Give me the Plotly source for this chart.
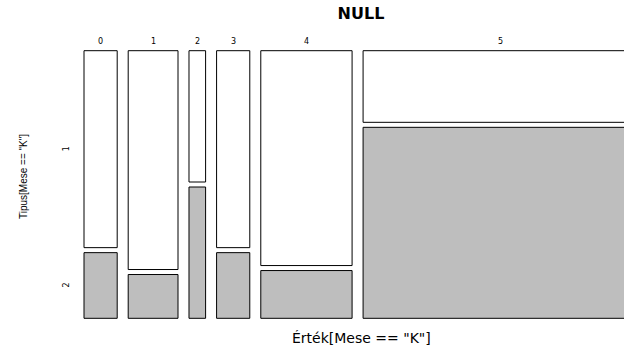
import plotly.graph_objects as go

# Contingency table: Érték[Mese == "K"] (columns) x Tipus[Mese == "K"] (rows)
values = ["0", "1", "2", "3", "4", "5"]
row_levels = ["1", "2"]
count_type1 = [3, 5, 1, 3, 9, 9]
count_type2 = [1, 1, 1, 1, 2, 24]

# Mosaic geometry (in count units horizontally, unit height vertically)
HGAP = 1.325
VGAP = 0.0187
FILL = {"1": "#ffffff", "2": "#bebebe"}

W, H = 624, 345
ML, MR, MT, MB = 82, 0, 48, 24
PX_PER_UNIT_X = 8.3
PX_PER_UNIT_Y = 267.6
x0_px, y0_px = 84, 318.3

fig = go.Figure()

x_left = 0.0
col_centers = []
row_label_y = None
for i, v in enumerate(values):
    n1, n2 = count_type1[i], count_type2[i]
    n = n1 + n2
    x_right = x_left + n
    frac2 = n2 / n
    y_split = frac2 * (1 - VGAP)
    cells = [
        ("2", 0.0, y_split),
        ("1", y_split + VGAP, 1.0),
    ]
    for lvl, yb, yt in cells:
        fig.add_trace(go.Scatter(
            x=[x_left, x_right, x_right, x_left, x_left],
            y=[yb, yb, yt, yt, yb],
            mode="lines",
            fill="toself",
            fillcolor=FILL[lvl],
            line=dict(color="#000000", width=1),
            hoverinfo="skip",
            showlegend=False,
        ))
    if i == 0:
        row_label_y = {"2": y_split / 2, "1": (y_split + VGAP + 1.0) / 2}
    col_centers.append((x_left + x_right) / 2)
    x_left = x_right + HGAP

plot_w = W - ML - MR
plot_h = H - MT - MB

x_range = [-(x0_px - ML) / PX_PER_UNIT_X, (W - MR - x0_px) / PX_PER_UNIT_X]
y_range = [-((H - MB) - y0_px) / PX_PER_UNIT_Y, 1 + ((y0_px - PX_PER_UNIT_Y) - MT) / PX_PER_UNIT_Y]


def paper_y(py):
    return ((H - MB) - py) / plot_h


def paper_x(px):
    return (px - ML) / plot_w


annotations = []
# column labels
for v, cx in zip(values, col_centers):
    annotations.append(dict(
        x=cx, xref="x", y=paper_y(41), yref="paper",
        text=v, showarrow=False, xanchor="center", yanchor="middle",
        font=dict(family="DejaVu Sans", size=8, color="#000000"),
    ))
# row labels
for lvl in row_levels:
    annotations.append(dict(
        x=paper_x(66), xref="paper", y=row_label_y[lvl], yref="y",
        text=lvl, showarrow=False, textangle=-90,
        xanchor="center", yanchor="middle",
        font=dict(family="DejaVu Sans", size=8, color="#000000"),
    ))
# axis titles
annotations.append(dict(
    x=paper_x(361), xref="paper", y=paper_y(337.5), yref="paper",
    text='Érték[Mese == "K"]', showarrow=False,
    xanchor="center", yanchor="middle",
    font=dict(family="DejaVu Sans", size=14, color="#000000"),
))
annotations.append(dict(
    x=paper_x(23), xref="paper", y=paper_y(177), yref="paper",
    text='Tipus[Mese == "K"]', showarrow=False, textangle=-90,
    xanchor="center", yanchor="middle",
    font=dict(family="Liberation Sans", size=10, color="#000000"),
))

fig.update_layout(
    width=W, height=H,
    margin=dict(l=ML, r=MR, t=MT, b=MB),
    paper_bgcolor="#ffffff", plot_bgcolor="#ffffff",
    title=dict(
        text="<b>NULL</b>", x=361 / W, xref="container", xanchor="center",
        y=1 - 13 / H, yref="container", yanchor="middle",
        font=dict(family="DejaVu Sans", size=16, color="#000000"),
    ),
    xaxis=dict(range=x_range, visible=False, fixedrange=True),
    yaxis=dict(range=y_range, visible=False, fixedrange=True),
    annotations=annotations,
    showlegend=False,
)

fig.write_html("out.html")
